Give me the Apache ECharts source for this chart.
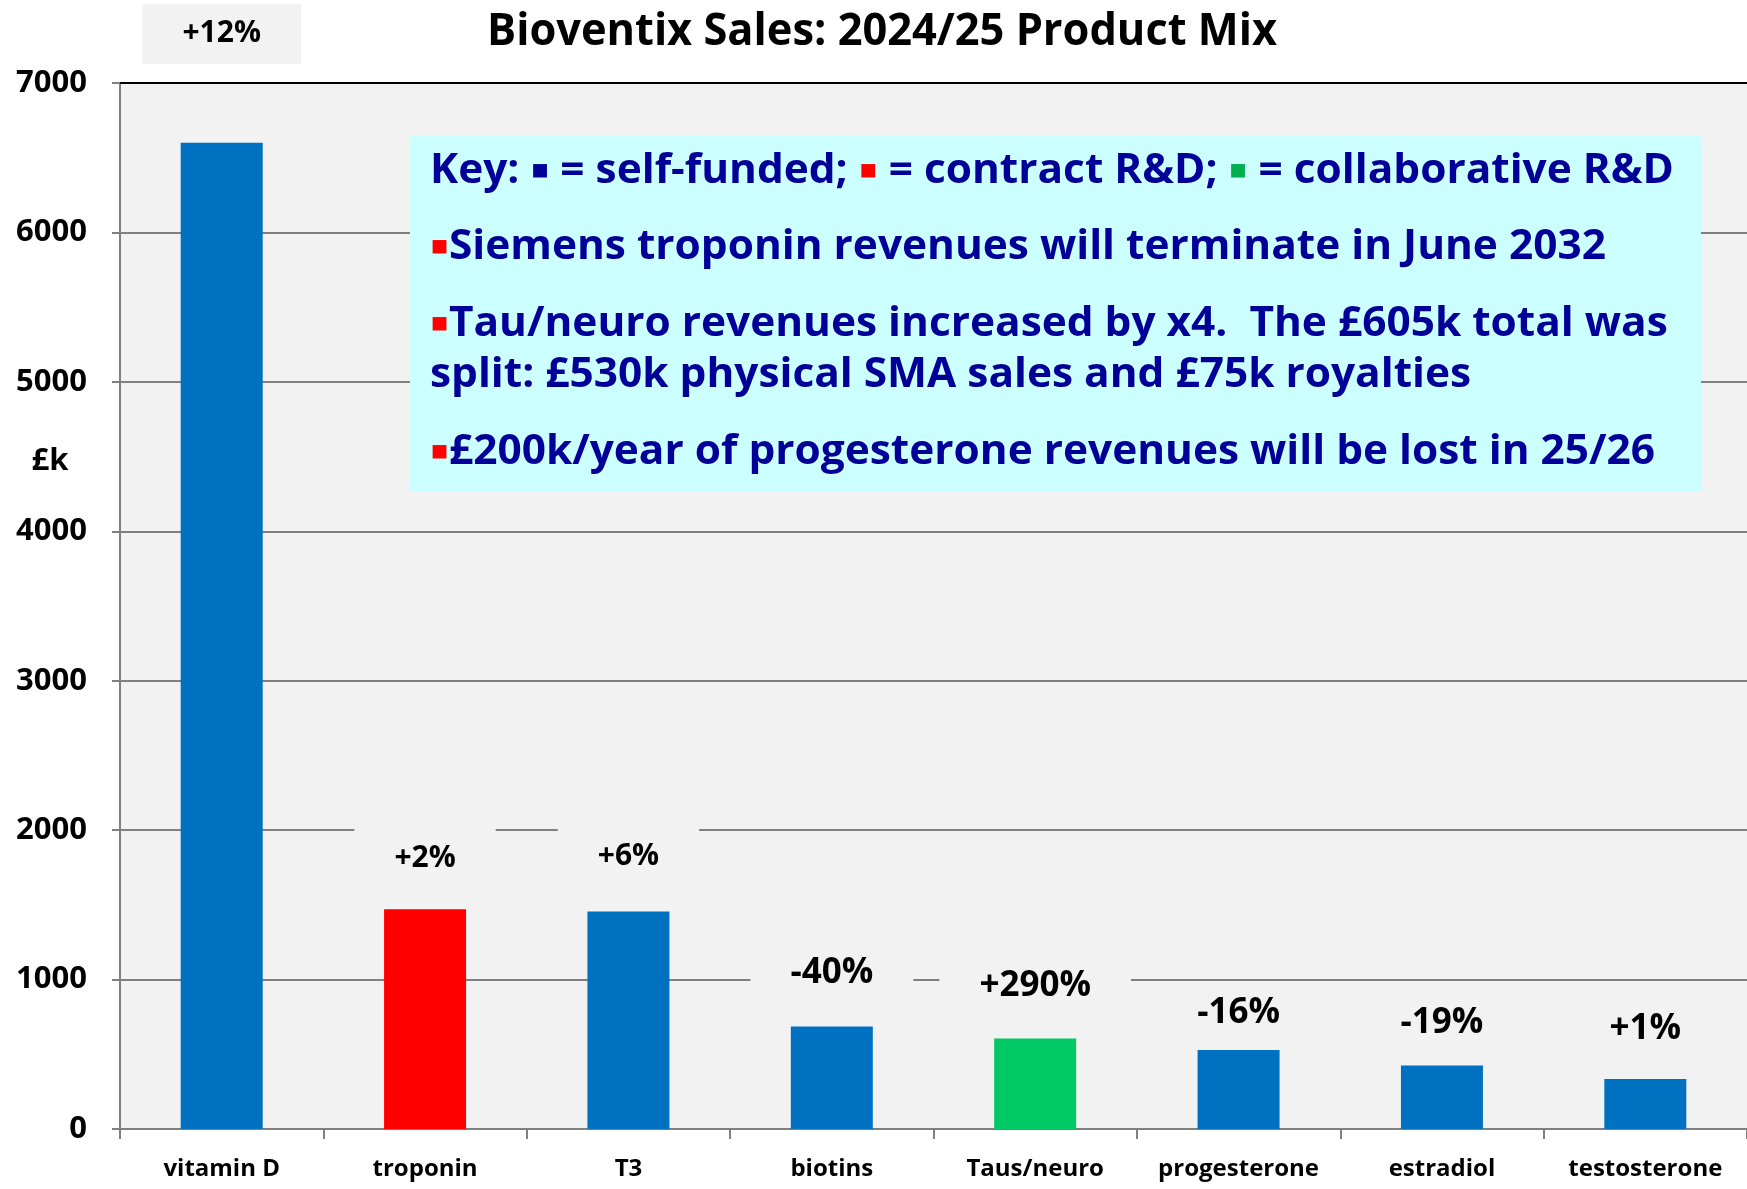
<!DOCTYPE html>
<html>
<head>
<meta charset="utf-8">
<script src="https://cdn.jsdelivr.net/npm/echarts@6/dist/echarts.min.js"></script>
<style>
  html, body { margin: 0; padding: 0; background: #fff; }
  #chart { width: 1747px; height: 1189px; }
</style>
</head>
<body>
<div id="chart"></div>
<script>
// data (£k, 2024/25)
const categories = ['vitamin D', 'troponin', 'T3', 'biotins', 'Taus/neuro', 'progesterone', 'estradiol', 'testosterone'];
const sales      = [6600, 1470, 1455, 686, 605, 529, 425, 335];
const growth     = ['+12%', '+2%', '+6%', '-40%', '+290%', '-16%', '-19%', '+1%'];
const funding    = ['self', 'contract', 'self', 'self', 'collab', 'self', 'self', 'self'];

const titleText = 'Bioventix Sales: 2024/25 Product Mix';
const keyLine   = 'Key: {nv|▪} = self-funded; {rd|▪} = contract R&D; {gr|▪} = collaborative R&D';
const notes = [
  '{rd|▪}Siemens troponin revenues will terminate in June 2032',
  '{rd|▪}Tau/neuro revenues increased by x4.  The £605k total was',
  'split: £530k physical SMA sales and £75k royalties',
  '{rd|▪}£200k/year of progesterone revenues will be lost in 25/26'
];

const fundingColors = { self: '#0070c0', contract: '#ff0000', collab: '#00c864' };
const FONT = '"Open Sans", "Noto Sans", sans-serif';

// label placement tweaks (Excel labels were hand-placed)
const labelGap  = [79, 21, 25, 23, 23, 7, 12, 20];
const labelSize = [30, 30, 30, 35, 35, 35, 35, 35];

// squeeze wide fonts to the widths in the picture
const ctx = document.createElement('canvas').getContext('2d');
function textWidth(str, size) {
  ctx.font = `bold ${size}px ${FONT}`;
  return ctx.measureText(str).width;
}
const titleSize = 44;
const titleScale = 790 / textWidth(titleText, titleSize);
const noteSize = 41;
const noteScale = 1172 / textWidth('▪Siemens troponin revenues will terminate in June 2032', noteSize);

const bulletRich = {
  nv: { fill: '#000099', color: '#000099', fontSize: 27, fontFamily: 'DejaVu Sans', fontWeight: 'bold' },
  rd: { fill: '#ff0000', color: '#ff0000', fontSize: 27, fontFamily: 'DejaVu Sans', fontWeight: 'bold' },
  gr: { fill: '#00b050', color: '#00b050', fontSize: 27, fontFamily: 'DejaVu Sans', fontWeight: 'bold' }
};

function noteText(str, y) {
  return {
    type: 'text', x: 430, y: y, scaleX: noteScale, z: 20,
    style: {
      text: str, fill: '#000099',
      fontSize: noteSize, fontWeight: 'bold', fontFamily: FONT,
      align: 'left', verticalAlign: 'middle',
      textAlign: 'left', textVerticalAlign: 'middle',
      rich: bulletRich
    }
  };
}

const chart = echarts.init(document.getElementById('chart'));
const axisGray = '#808080';

const option = {
  backgroundColor: '#ffffff',
  animation: false,
  grid: { left: 120, right: 0, top: 83, bottom: 60, show: true, backgroundColor: '#f2f2f2', borderWidth: 0 },
  xAxis: [{
    type: 'category',
    data: categories,
    axisLine: { lineStyle: { color: axisGray, width: 2 } },
    axisTick: { show: true, length: 10, lineStyle: { color: axisGray, width: 2 } },
    axisLabel: { interval: 0, color: '#000', fontWeight: 'bold', fontSize: 24, fontFamily: FONT, margin: 28 }
  }, {
    type: 'category',
    data: categories,
    position: 'top',
    axisLine: { lineStyle: { color: '#000', width: 2 } },
    axisTick: { show: false },
    axisLabel: { show: false }
  }],
  yAxis: {
    type: 'value', min: 0, max: 7000, interval: 1000,
    axisLine: { show: true, lineStyle: { color: axisGray, width: 2 } },
    axisTick: { show: true, length: 8, lineStyle: { color: axisGray, width: 2 } },
    axisLabel: {
      color: '#000', fontWeight: 'bold', fontSize: 31, fontFamily: FONT, margin: 33,
      formatter: v => String(v)
    },
    splitLine: { lineStyle: { color: axisGray, width: 2 } }
  },
  series: [{
    type: 'bar',
    barWidth: 82,
    data: sales.map((v, i) => ({
      value: v,
      itemStyle: { color: fundingColors[funding[i]] },
      label: { distance: labelGap[i], fontSize: labelSize[i] }
    })),
    label: {
      show: true, position: 'top',
      formatter: p => growth[p.dataIndex],
      color: '#000', fontWeight: 'bold', fontFamily: FONT,
      lineHeight: 38, padding: [11, 40],
      backgroundColor: '#f2f2f2'
    }
  }],
  graphic: [
    {
      type: 'text', x: 487, y: 32, scaleX: titleScale, z: 20,
      style: {
        text: titleText, fill: '#000',
        fontSize: titleSize, fontWeight: 'bold', fontFamily: FONT,
        align: 'left', verticalAlign: 'middle', textAlign: 'left', textVerticalAlign: 'middle'
      }
    },
    {
      type: 'text', x: 50, y: 461, z: 20,
      style: {
        text: '£k', fill: '#000',
        fontSize: 31, fontWeight: 'bold', fontFamily: FONT,
        align: 'center', verticalAlign: 'middle', textAlign: 'center', textVerticalAlign: 'middle'
      }
    },
    {
      type: 'rect', z: 15,
      shape: { x: 410, y: 136, width: 1291, height: 355 },
      style: { fill: '#ccffff' }
    },
    noteText(keyLine, 171),
    noteText(notes[0], 247),
    noteText(notes[1], 324),
    noteText(notes[2], 375),
    noteText(notes[3], 452)
  ]
};

chart.setOption(option);
</script>
</body>
</html>
